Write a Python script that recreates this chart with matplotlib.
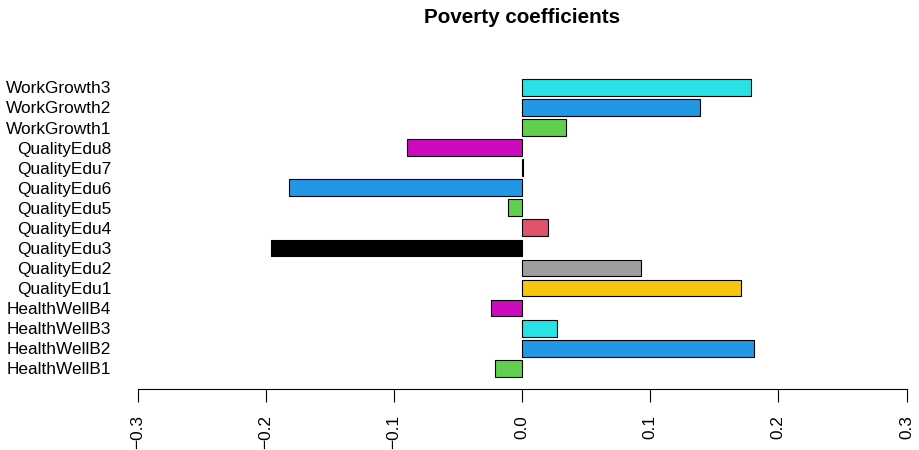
import numpy as np
import matplotlib
matplotlib.use("Agg")
import matplotlib.pyplot as plt

# Coefficients, listed from the bottom bar to the top bar
labels = ["HealthWellB1", "HealthWellB2", "HealthWellB3", "HealthWellB4",
          "QualityEdu1", "QualityEdu2", "QualityEdu3", "QualityEdu4",
          "QualityEdu5", "QualityEdu6", "QualityEdu7", "QualityEdu8",
          "WorkGrowth1", "WorkGrowth2", "WorkGrowth3"]
values = [-0.021, 0.181, 0.027, -0.024,
          0.171, 0.093, -0.196, 0.020,
          -0.011, -0.182, 0.001, -0.090,
          0.034, 0.139, 0.179]
colors = ["#61D04F", "#2297E6", "#28E2E5", "#CD0BBC",
          "#F5C710", "#9E9E9E", "#000000", "#DF536B",
          "#61D04F", "#2297E6", "#28E2E5", "#CD0BBC",
          "#61D04F", "#2297E6", "#28E2E5"]
xticks = [-0.3, -0.2, -0.1, 0.0, 0.1, 0.2, 0.3]

plt.rcParams["font.family"] = ["Liberation Sans", "DejaVu Sans"]

W, H = 919, 450
fig = plt.figure(figsize=(W / 100, H / 100), dpi=100)

# plot region in pixels
left_px, right_px = 137.5, 906.5
top_px, bottom_px = 67.0, 388.7
ax = fig.add_axes([left_px / W, 1 - bottom_px / H,
                   (right_px - left_px) / W, (bottom_px - top_px) / H])

pos = np.arange(len(labels))
ax.barh(pos, values, height=1 / 1.2, color=colors,
        edgecolor="black", linewidth=0.8)

ax.set_xlim(-0.3, 0.3)
ax.set_ylim(-1.017, 15.017)

for s in ["top", "right", "left"]:
    ax.spines[s].set_visible(False)
ax.spines["bottom"].set_bounds(-0.3, 0.3)
ax.spines["bottom"].set_linewidth(0.8)

ax.set_yticks(pos)
ax.set_yticklabels(labels, fontsize=12.4)
ax.tick_params(axis="y", left=False, pad=15.4)

ax.set_xticks(xticks)
ax.set_xticklabels([f"{t:.1f}".replace("-", "\u2212") for t in xticks],
                   rotation=90, fontsize=12.4)
ax.tick_params(axis="x", length=9.4, width=0.8, pad=9.5)

fig.text(521.7 / W, 1 - 23.3 / H, "Poverty coefficients",
         ha="center", va="baseline", fontsize=14.9, fontweight="bold")

fig.savefig("out.png", dpi=100)
